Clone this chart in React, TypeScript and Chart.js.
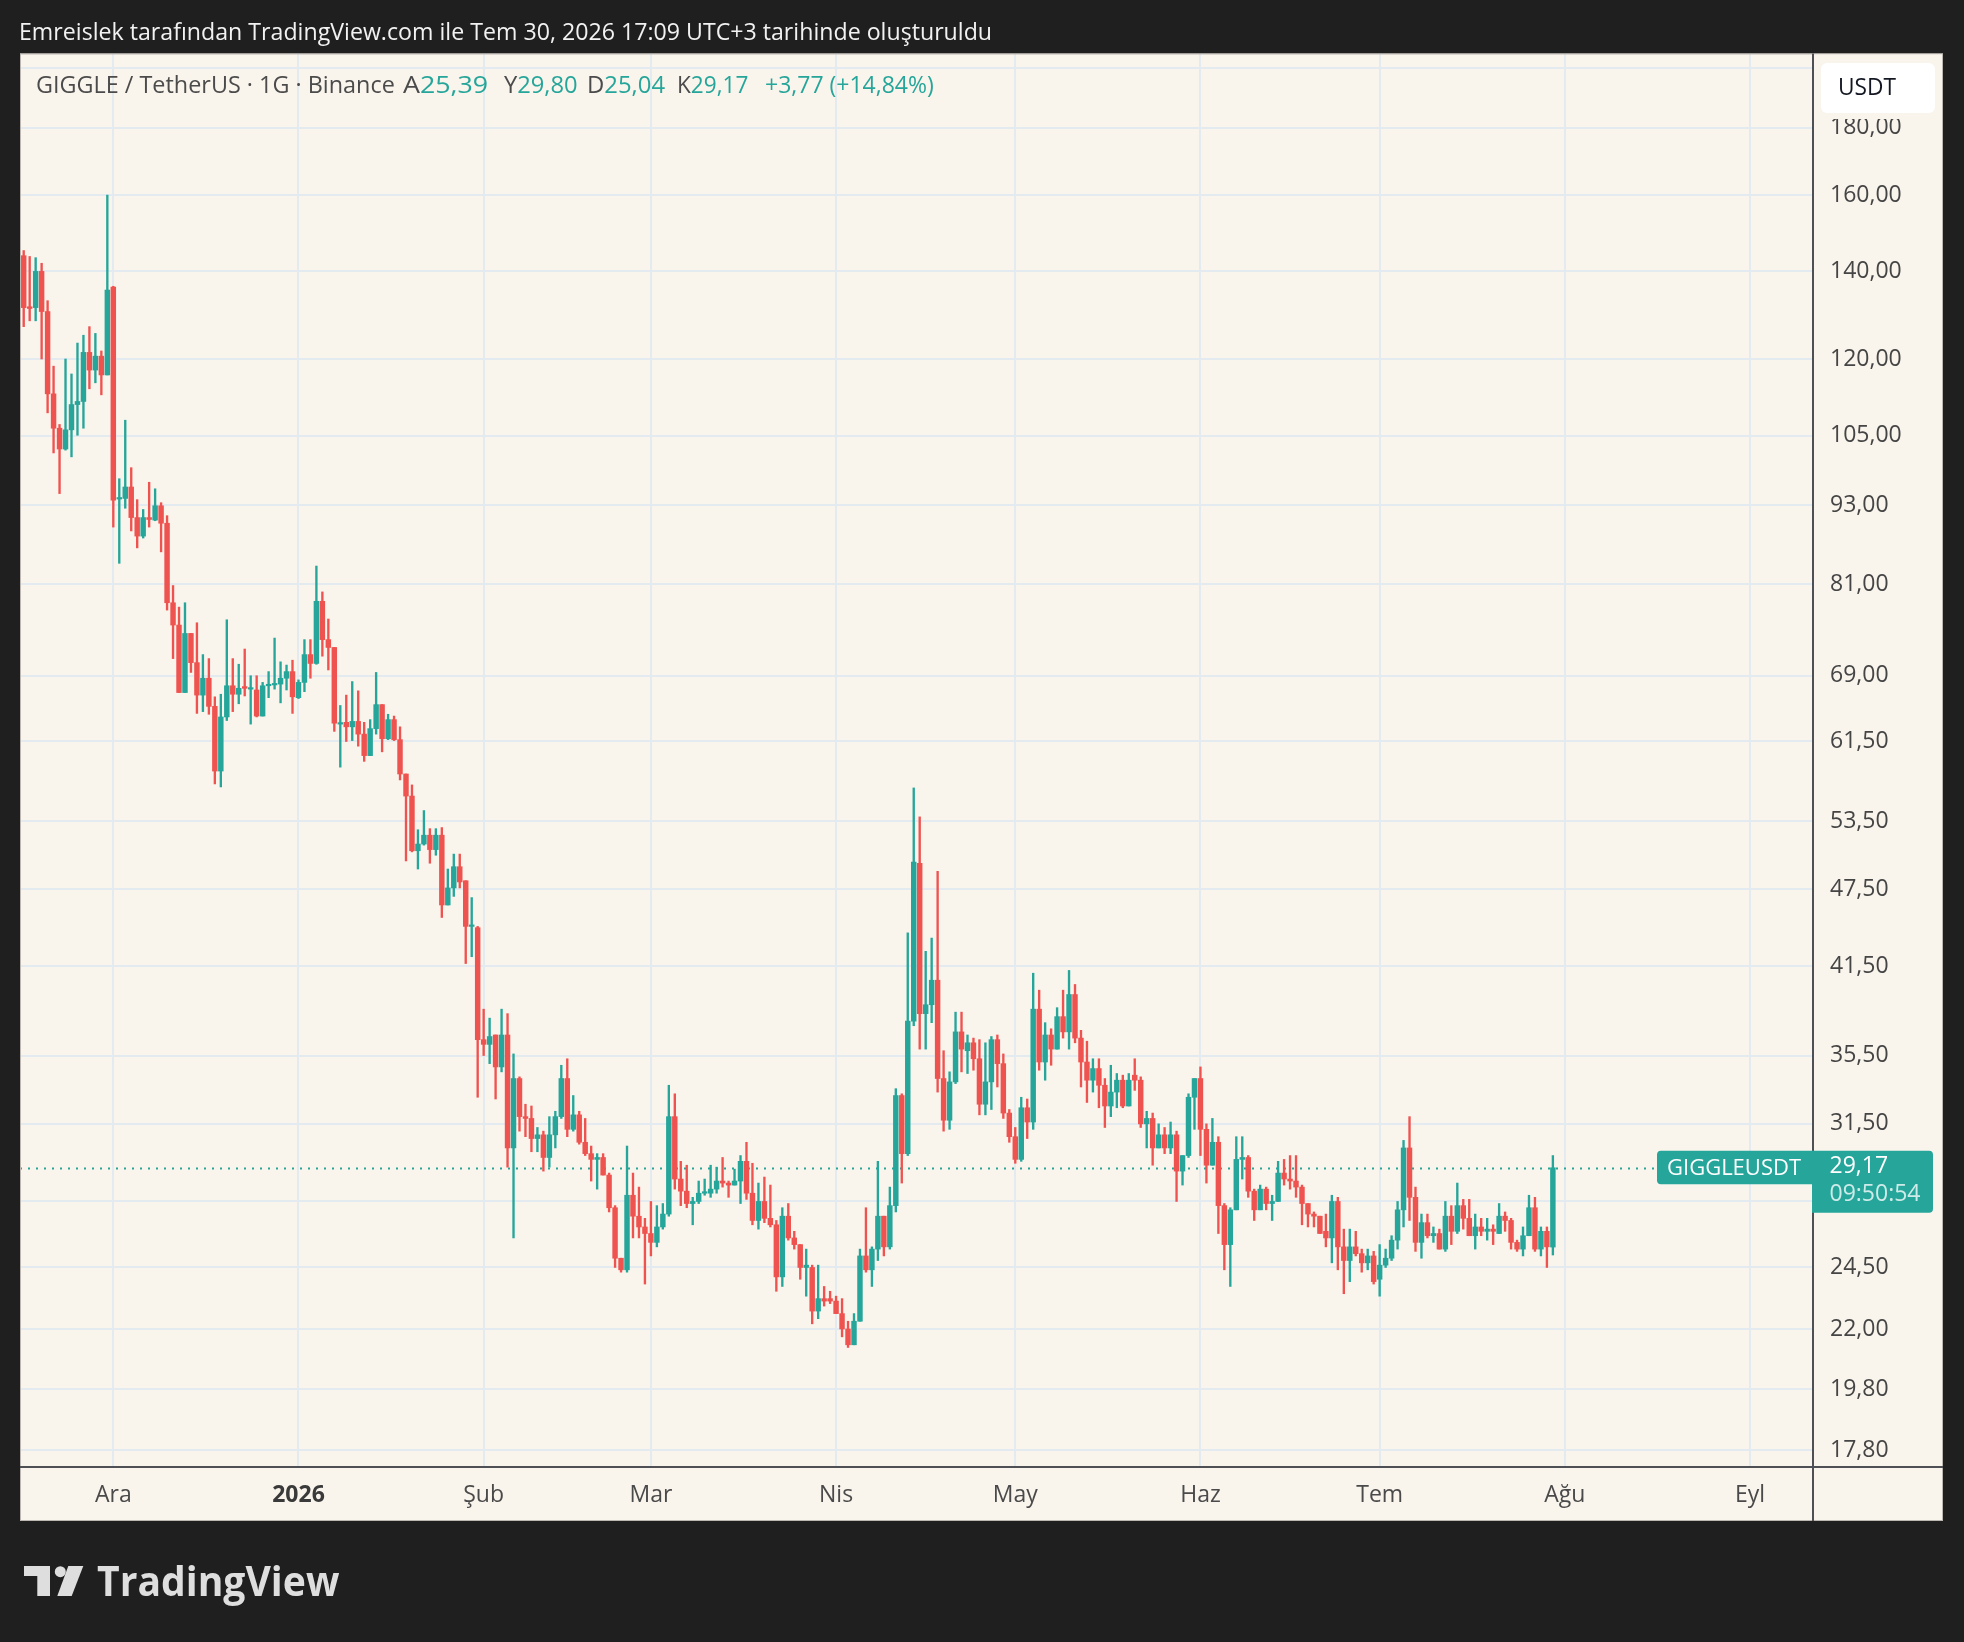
import React, { useEffect, useRef } from "react";
import { Chart, registerables } from "chart.js";

Chart.register(...registerables);

// ---------------- data ----------------
// first candle = 16 Nov 2025, expressed in days from 1 Dec 2025
const FIRST_DAY_OFFSET = -15;

const opens = [
  143.9,131.6,131.4,140.0,130.5,113.0,106.4,102.6,106.1,110.9,
  111.5,121.5,117.8,120.7,116.8,136.2,94.0,94.1,96.0,91.0,
  88.1,91.0,90.6,92.9,90.1,78.4,75.4,67.0,74.3,70.6,
  66.7,68.7,65.4,58.4,64.2,67.8,66.8,67.7,67.4,67.3,
  64.3,67.8,67.9,68.0,68.7,69.5,66.4,68.2,71.6,70.5,
  78.6,73.5,72.5,63.4,
  63.6,63.1,63.7,62.3,60.0,62.9,65.6,61.8,63.9,61.7,
  58.1,55.9,50.8,51.4,52.2,50.9,52.2,46.2,47.6,49.4,
  48.2,44.5,44.4,36.5,36.2,36.8,34.8,36.8,30.2,34.1,
  31.9,31.8,30.7,30.9,29.7,30.9,31.9,34.1,31.2,32.0,
  30.5,29.9,29.6,29.7,28.8,27.2,24.9,24.4,27.8,26.8,
  26.3,26.0,
  25.6,26.3,26.9,31.9,28.6,28.0,27.4,27.5,27.9,27.9,
  28.1,28.5,28.4,28.3,28.5,29.5,27.9,26.6,27.5,26.7,
  26.4,24.1,26.8,25.8,25.5,24.5,24.5,22.7,23.2,23.2,
  23.1,22.6,22.0,21.4,22.3,25.0,24.4,25.3,26.8,25.4,
  27.3,33.1,29.9,37.7,49.7,38.2,38.8,40.5,34.1,31.7,
  33.9,37.0,
  35.8,36.3,35.3,32.6,33.9,36.5,35.0,32.1,30.8,29.6,
  32.4,31.6,38.5,35.1,36.8,35.9,38.0,37.0,39.5,36.6,
  35.1,34.0,34.7,33.7,32.5,33.3,34.0,32.5,34.3,34.0,
  31.5,31.8,30.2,30.9,30.2,30.9,29.0,29.8,33.0,34.1,
  31.2,29.3,30.5,27.3,25.5,27.1,29.6,29.7,28.0,27.1,
  28.1,27.4,
  27.5,28.9,28.6,28.5,28.2,27.4,26.9,26.8,26.1,25.8,
  27.5,25.4,24.8,25.4,25.1,24.7,25.0,24.0,24.6,24.9,
  25.7,27.1,30.2,27.7,25.6,26.5,25.9,26.0,25.3,26.8,
  26.1,27.3,26.7,25.9,26.3,26.1,26.2,26.0,26.8,26.6,
  25.6,25.3,25.9,27.2,25.3,26.1,25.39,
];

const highs = [
  145.2,143.7,143.4,142.0,133.0,118.6,107.1,120.1,117.0,123.5,
  125.2,127.1,125.6,121.8,160.0,136.4,97.4,107.9,99.3,93.9,
  92.3,96.8,95.7,93.4,91.3,80.8,77.8,78.4,74.3,75.7,
  71.6,71.1,66.5,66.8,76.1,71.1,70.4,72.3,69.0,69.0,
  68.2,69.5,73.7,70.7,70.3,70.9,68.5,73.5,73.5,83.6,
  79.9,76.2,72.5,65.5,
  66.7,68.3,67.2,63.6,63.9,69.4,65.6,64.5,64.3,63.1,
  58.1,57.0,52.7,54.5,52.8,52.8,52.9,49.2,50.5,50.5,
  48.2,46.8,44.5,38.5,37.9,36.8,38.5,38.2,35.6,34.2,
  32.6,32.5,31.3,31.1,31.9,32.2,34.9,35.3,33.1,32.2,
  31.8,30.3,29.9,29.9,28.9,27.3,24.9,30.3,28.9,28.2,
  26.7,27.5,
  27.3,27.4,33.7,33.2,29.5,29.3,27.7,28.5,28.6,29.3,
  29.2,29.7,28.5,29.1,29.8,30.5,29.4,28.4,28.7,28.3,
  26.6,27.2,27.4,26.1,25.5,25.3,24.6,24.6,23.7,23.5,
  23.3,23.2,22.3,22.6,25.3,27.2,25.4,29.5,26.8,28.2,
  33.5,33.2,44.0,56.7,53.9,42.6,43.6,49.0,35.8,34.5,
  38.3,38.3,
  36.8,36.6,36.5,36.3,36.7,36.8,35.6,32.3,31.3,33.0,
  32.9,41.0,39.8,37.6,37.2,38.6,39.8,41.2,40.2,37.1,
  36.4,35.3,35.3,34.1,34.9,34.4,34.3,34.4,35.3,34.2,
  32.2,32.1,31.5,31.3,31.6,31.1,29.8,33.2,34.1,34.8,
  31.5,31.8,30.8,27.4,27.2,30.8,30.8,29.8,28.1,28.3,
  28.2,27.8,
  29.5,29.6,29.8,29.8,28.3,27.4,27.0,26.8,26.9,27.8,
  27.7,26.2,26.2,26.1,25.3,25.3,25.2,25.5,25.3,25.9,
  27.5,30.6,31.9,28.2,26.9,26.9,26.3,26.2,27.5,27.3,
  28.4,27.6,27.6,26.9,26.7,26.7,26.4,27.4,27.0,26.7,
  25.7,26.3,27.8,27.7,26.3,26.3,29.8,
];

const lows = [
  127.1,128.4,128.4,120.1,109.3,101.9,94.9,102.4,101.2,105.1,
  106.4,114.0,115.2,112.8,116.8,89.5,84.0,92.5,88.9,86.3,
  87.8,89.5,90.5,85.7,77.4,71.1,67.0,67.0,69.4,64.6,
  64.8,64.5,57.1,56.8,63.8,64.8,65.7,66.6,63.4,64.2,
  64.3,66.4,67.4,65.8,67.3,64.6,66.3,67.1,68.7,70.4,
  71.4,69.7,62.6,58.8,
  61.5,61.6,61.0,59.4,60.0,62.3,60.4,61.7,61.6,57.5,
  49.9,50.7,49.2,51.3,49.7,50.4,45.2,46.2,46.9,47.6,
  41.7,42.2,33.0,35.5,35.0,32.9,34.5,29.2,25.8,31.1,
  30.8,30.0,30.0,29.0,29.2,30.2,31.8,30.8,31.1,30.4,
  29.8,28.5,28.1,28.8,27.0,24.5,24.3,24.3,25.8,25.8,
  23.8,25.0,
  25.4,26.2,26.8,28.1,27.3,27.2,26.4,27.4,27.8,27.7,
  27.9,28.2,27.7,28.3,27.4,27.6,26.4,26.2,26.5,26.3,
  23.5,23.7,25.7,25.3,24.0,23.3,22.2,22.4,22.9,23.0,
  22.6,21.7,21.3,21.4,22.3,24.3,23.7,24.8,25.0,25.3,
  27.0,28.4,29.8,37.4,35.9,35.9,37.6,33.3,31.1,31.2,
  33.8,34.5,
  34.4,34.6,32.0,32.0,32.3,33.6,31.8,30.5,29.4,29.5,
  30.7,31.2,34.6,34.0,34.9,35.9,36.6,35.9,36.3,33.6,
  32.7,33.3,32.4,31.3,31.9,32.4,32.4,32.5,33.4,31.3,
  30.2,29.3,30.2,29.9,29.9,27.5,28.3,29.7,31.2,29.8,
  28.4,29.3,26.0,24.4,23.7,27.1,28.6,27.7,26.6,27.1,
  27.1,26.6,
  27.5,28.3,28.1,27.7,26.4,26.3,26.3,26.0,25.4,24.7,
  24.4,23.4,23.9,25.0,24.3,24.4,23.8,23.3,24.5,24.8,
  25.3,26.3,26.6,25.2,24.9,25.8,25.6,25.3,25.2,25.5,
  26.0,26.2,25.9,25.3,25.9,25.7,25.5,26.0,26.1,25.3,
  25.2,25.0,25.9,25.2,25.0,24.5,25.04,
];

const closes = [
  131.4,131.2,140.0,130.5,113.0,106.4,102.6,106.1,110.9,111.5,
  121.5,117.8,120.7,116.8,135.5,93.8,94.1,96.0,91.0,88.1,
  91.0,90.7,92.9,90.1,78.4,75.4,67.0,74.3,70.6,66.7,
  68.7,65.4,58.4,64.2,67.8,66.8,67.5,67.5,67.45,64.3,
  67.8,67.9,68.0,68.7,69.5,66.5,68.2,71.6,70.5,78.6,
  73.5,72.5,63.5,63.5,
  63.1,63.7,62.3,60.0,62.9,65.6,61.8,63.9,61.7,58.1,
  55.9,50.8,51.4,52.2,50.9,52.2,46.2,47.6,49.4,48.1,
  44.5,44.6,36.5,36.2,36.7,34.8,36.8,30.2,34.1,31.9,
  31.8,30.7,30.9,29.7,30.9,31.9,34.1,31.2,32.0,30.5,
  29.9,29.6,29.7,28.8,27.2,24.9,24.4,27.8,26.8,26.3,
  26.0,25.6,
  26.3,26.9,31.9,28.6,28.0,27.4,27.5,27.9,27.9,28.1,
  28.5,28.4,28.3,28.5,29.5,27.9,26.6,27.5,26.7,26.4,
  24.1,26.8,25.8,25.5,24.5,24.6,22.7,23.2,23.1,23.1,
  22.6,22.0,21.4,22.3,25.0,24.4,25.3,26.8,25.4,27.3,
  33.1,29.9,37.7,49.8,38.2,38.8,40.5,34.1,31.7,33.9,
  37.0,35.9,
  36.3,35.3,32.6,33.9,36.5,35.0,32.1,30.8,29.6,32.4,
  31.6,38.5,35.1,36.8,35.9,38.0,37.0,39.5,36.6,35.1,
  34.0,34.7,33.7,32.5,33.3,34.0,32.5,34.0,34.0,31.5,
  31.8,30.2,30.9,30.2,30.9,29.0,29.8,33.0,34.1,31.2,
  29.3,30.5,27.3,25.5,27.1,29.6,29.7,28.0,27.1,28.1,
  27.4,27.5,
  28.9,28.6,28.5,28.2,27.4,26.9,26.8,26.0,25.8,27.5,
  25.4,24.8,25.4,25.1,24.7,25.0,23.9,24.6,24.9,25.7,
  27.1,30.2,27.7,25.6,26.5,25.9,26.0,25.3,26.8,26.1,
  27.3,26.7,25.9,26.3,26.1,26.2,26.1,26.8,26.6,25.6,
  25.3,25.9,27.2,25.3,26.1,25.4,29.17,
];

const monthTickDays = [0, 31, 62, 90, 121, 151, 182, 212, 243, 274];
const monthTickLabels = ["Ara", "2026", "Şub", "Mar", "Nis", "May", "Haz", "Tem", "Ağu", "Eyl"];
const boldTickLabels = ["2026"];
const priceTicks = [17.8, 19.8, 22, 24.5, 27.5, 31.5, 35.5, 41.5, 47.5, 53.5, 61.5, 69, 81, 93, 105, 120, 140, 160, 180, 200];
const hiddenPriceTicks = [27.5, 200];
const xRange = [-15.62, 284.38];
const yRange = [17.31, 204.8];

const titleText = "Emreislek tarafından TradingView.com ile Tem 30, 2026 17:09 UTC+3 tarihinde oluşturuldu";
const symbolText = "GIGGLE / TetherUS · 1G · Binance";
const ohlcLetters = ["A", "Y", "D", "K"];
const ohlcTexts = ["25,39", "29,80", "25,04", "29,17"];
const changeText = "+3,77 (+14,84%)";
const tickerLabel = "GIGGLEUSDT";
const countdownText = "09:50:54";
const currencyText = "USDT";
const brandText = "TradingView";

// ---------------- styles ----------------
const FONT = "'Open Sans', 'Noto Sans', sans-serif";
const UP = "#26a69a";
const DOWN = "#ef5350";
const DARK = "#1f1f1f";
const CREAM = "#f9f4ec";
const GRID = "#e3eaf0";
const AXIS_LINE = "#4e5056";
const LEGEND_GRAY = "#4b4b4b";
const PANEL = { left: 20, top: 53.5, right: 1943, bottom: 1521 };

Chart.defaults.font.family = FONT;

function fmtPrice(v: number) {
  return v.toFixed(2).replace(".", ",");
}

function rr(ctx: any, x: number, y: number, w: number, h: number, r: number[]) {
  ctx.beginPath();
  if (ctx.roundRect) ctx.roundRect(x, y, w, h, r);
  else ctx.rect(x, y, w, h);
  ctx.fill();
}

function isBoldTick(c: any) {
  if (!c || !c.tick) return false;
  const lbl = monthTickLabels[monthTickDays.indexOf(Number(c.tick.value))];
  return boldTickLabels.includes(lbl);
}

export default function App() {
  const canvasRef = useRef<HTMLCanvasElement | null>(null);
  const rootRef = useRef<HTMLDivElement | null>(null);

  useEffect(() => {
    const root = rootRef.current;
    if (!root) return;
    root.querySelectorAll<HTMLElement>("[data-fitw]").forEach((el) => {
      const target = Number(el.dataset.fitw);
      const w = el.offsetWidth;
      if (w > 0) el.style.transform = `scaleX(${target / w})`;
    });
  }, []);

  useEffect(() => {
    const canvas = canvasRef.current;
    if (!canvas) return;
    const xs = opens.map((_, i) => FIRST_DAY_OFFSET + i);
    const colors = opens.map((o, i) => (closes[i] >= o ? UP : DOWN));
    const last = closes[closes.length - 1];

    const tvPlugin: any = {
      id: "tvPanel",
      beforeDraw(chart: any) {
        const ctx = chart.ctx;
        ctx.save();
        ctx.fillStyle = CREAM;
        ctx.fillRect(PANEL.left, PANEL.top, PANEL.right - PANEL.left, PANEL.bottom - PANEL.top);
        ctx.restore();
      },
      beforeDatasetsDraw(chart: any) {
        const { ctx, chartArea: ca, scales } = chart;
        const y = Math.round(scales.y.getPixelForValue(last)) + 0.5;
        ctx.save();
        ctx.strokeStyle = UP;
        ctx.lineWidth = 2;
        ctx.setLineDash([2, 6]);
        ctx.beginPath();
        ctx.moveTo(ca.left, y);
        ctx.lineTo(ca.right, y);
        ctx.stroke();
        ctx.restore();
      },
      afterDraw(chart: any) {
        const { ctx, chartArea: ca, scales } = chart;
        const y = scales.y.getPixelForValue(last);
        ctx.save();
        // panel border
        ctx.strokeStyle = "#bcb8b1";
        ctx.lineWidth = 1;
        ctx.strokeRect(PANEL.left + 0.5, PANEL.top + 0.5, PANEL.right - PANEL.left - 1, PANEL.bottom - PANEL.top - 1);
        // axis separators
        ctx.fillStyle = AXIS_LINE;
        ctx.fillRect(ca.right, PANEL.top, 2, PANEL.bottom - PANEL.top);
        ctx.fillRect(PANEL.left, ca.bottom, PANEL.right - PANEL.left, 2);
        // currency box
        ctx.fillStyle = CREAM;
        ctx.fillRect(ca.right + 2, PANEL.top + 1, PANEL.right - ca.right - 3, 118 - PANEL.top);
        ctx.fillStyle = "#ffffff";
        rr(ctx, ca.right + 9, 63, 114, 50, [6, 6, 6, 6]);
        ctx.fillStyle = "#131722";
        ctx.font = `23px ${FONT}`;
        ctx.textAlign = "left";
        ctx.textBaseline = "middle";
        ctx.fillText(currencyText, ca.right + 26, 88, 58);
        // last price labels
        ctx.fillStyle = UP;
        rr(ctx, ca.right - 155, y - 17, 156, 33.5, [4, 0, 0, 4]);
        rr(ctx, ca.right, y - 17, 121, 62, [0, 4, 4, 0]);
        ctx.fillStyle = "#ffffff";
        ctx.font = `500 22px ${FONT}`;
        ctx.fillText(tickerLabel, ca.right - 145, y + 0.5, 135);
        ctx.font = `23px ${FONT}`;
        ctx.fillText(fmtPrice(last), ca.right + 17.5, y - 1, 60);
        ctx.fillStyle = "rgba(255,255,255,0.78)";
        ctx.fillText(countdownText, ca.right + 17.5, y + 26.5, 92);
        ctx.restore();
      },
    };

    const chart = new Chart(canvas, {
      type: "bar",
      data: {
        datasets: [
          {
            label: "wick",
            data: xs.map((x, i) => ({ x, y: [lows[i], highs[i]] })) as any,
            backgroundColor: colors,
            barThickness: 1.7,
            grouped: false,
            order: 2,
          } as any,
          {
            label: "body",
            data: xs.map((x, i) => ({ x, y: [opens[i], closes[i]] })) as any,
            backgroundColor: colors,
            barThickness: 4.8,
            minBarLength: 1.5,
            grouped: false,
            order: 1,
          } as any,
        ],
      },
      options: {
        animation: false,
        responsive: false,
        maintainAspectRatio: false,
        layout: { padding: { left: 20, top: 54, right: 21, bottom: 121 } },
        plugins: { legend: { display: false }, tooltip: { enabled: false } },
        scales: {
          x: {
            type: "linear",
            bounds: "data",
            min: xRange[0],
            max: xRange[1],
            offset: false,
            afterBuildTicks: (s: any) => {
              s.ticks = monthTickDays.map((v) => ({ value: v }));
            },
            afterFit: (s: any) => {
              s.height = 55;
            },
            grid: { color: GRID, lineWidth: 2, drawTicks: false, offset: false },
            border: { display: false },
            ticks: {
              autoSkip: false,
              maxRotation: 0,
              minRotation: 0,
              padding: 16,
              callback: (v: any) => monthTickLabels[monthTickDays.indexOf(Number(v))] ?? "",
              color: (c: any) => (isBoldTick(c) ? "#3a3a3a" : "#4a4a4a"),
              font: (c: any) => ({ family: FONT, size: 23, weight: isBoldTick(c) ? "bold" : "normal" }),
            },
          },
          y: {
            type: "logarithmic",
            position: "right",
            bounds: "data",
            min: yRange[0],
            max: yRange[1],
            afterBuildTicks: (s: any) => {
              s.ticks = priceTicks.map((v) => ({ value: v }));
            },
            afterFit: (s: any) => {
              s.width = 131;
            },
            grid: { color: GRID, lineWidth: 2, drawTicks: false },
            border: { display: false },
            ticks: {
              autoSkip: false,
              padding: 18,
              color: "#454545",
              font: { family: FONT, size: 23 },
              callback: (v: any) => (hiddenPriceTicks.includes(Number(v)) ? "" : fmtPrice(Number(v))),
            },
          },
        },
      } as any,
      plugins: [tvPlugin],
    });
    return () => chart.destroy();
  }, []);

  const textBase: any = {
    position: "absolute",
    display: "inline-block",
    whiteSpace: "nowrap",
    transformOrigin: "0 0",
    fontSize: 23,
    lineHeight: "28px",
    fontFamily: FONT,
  };
  const ohlcLefts = [403, 503.8, 586.7, 677.3];
  const ohlcWidths = [85, 73.2, 77.8, 71.7];

  return (
    <div
      ref={rootRef}
      style={{ position: "fixed", left: 0, top: 0, width: 1964, height: 1642, background: DARK, overflow: "hidden" }}
    >
      <canvas
        ref={canvasRef}
        width={1964}
        height={1642}
        style={{ position: "absolute", left: 0, top: 0, width: 1964, height: 1642 }}
      />
      <span data-fitw={973} style={{ ...textBase, left: 19, top: 16.5, color: "#f2f2f2" }}>
        {titleText}
      </span>
      <span data-fitw={359} style={{ ...textBase, left: 36.4, top: 69.5, color: LEGEND_GRAY }}>
        {symbolText}
      </span>
      {ohlcLetters.map((l, i) => (
        <span key={l} data-fitw={ohlcWidths[i]} style={{ ...textBase, left: ohlcLefts[i], top: 69.5 }}>
          <span style={{ color: LEGEND_GRAY }}>{l}</span>
          <span style={{ color: UP }}>{ohlcTexts[i]}</span>
        </span>
      ))}
      <span data-fitw={169} style={{ ...textBase, left: 765, top: 69.5, color: UP }}>
        {changeText}
      </span>
      <svg style={{ position: "absolute", left: 20, top: 1560 }} width={70} height={40} viewBox="0 0 70 40">
        <path d="M4 6 H30 V36 H17.3 V16 H4 Z" fill="#dedede" />
        <circle cx={40.3} cy={11.7} r={5.5} fill="#dedede" />
        <path d="M48.3 6 H63.3 L51.7 36 H37.3 Z" fill="#dedede" />
      </svg>
      <span
        data-fitw={242}
        style={{ ...textBase, left: 97, top: 1554.7, fontSize: 42, lineHeight: "50px", fontWeight: 700, color: "#dedede" }}
      >
        {brandText}
      </span>
    </div>
  );
}
